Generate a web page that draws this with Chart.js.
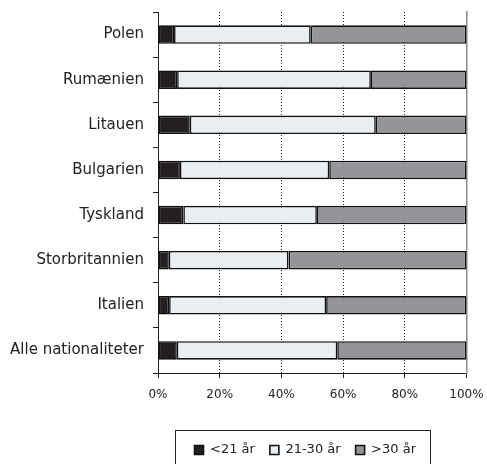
<!DOCTYPE html>
<html>
<head>
<meta charset="utf-8">
<script src="https://cdn.jsdelivr.net/npm/chart.js@4/dist/chart.umd.min.js"></script>
<style>
  html, body { margin: 0; padding: 0; background: #fff; }
  #wrap { width: 487px; height: 464px; }
</style>
</head>
<body>
<div id="wrap"><canvas id="ageChart" width="487" height="464"></canvas></div>
<script>
// age shares per nationality, in percent
const countries = ['Polen', 'Rumænien', 'Litauen', 'Bulgarien', 'Tyskland', 'Storbritannien', 'Italien', 'Alle nationaliteter'];
const under21 = [5.2, 6.2, 10.3, 7.1, 8.2, 3.5, 3.6, 6.1];
const age21to30 = [44.3, 62.8, 60.3, 48.4, 43.3, 38.8, 50.9, 52.0];
const over30 = [50.5, 31.0, 29.4, 44.5, 48.5, 57.7, 45.5, 41.9];
const xTicks = [0, 20, 40, 60, 80, 100];

(function(){
    const fontFamily = '"DejaVu Sans", sans-serif';

    // legend sits under the plot area (not the canvas) and has a frame
    const legendFrame = {
        id: 'legendFrame',
        afterLayout(chart) {
            const lg = chart.legend, ca = chart.chartArea;
            if (!lg || !ca) return;
            const dx = Math.round((ca.left + ca.right) / 2 - (lg.left + lg.right) / 2) - 7;
            const dy = 2.5;
            lg.left += dx; lg.right += dx;
            lg.top += dy; lg.bottom += dy;
        },
        afterDraw(chart) {
            const boxes = chart.legend && chart.legend.legendHitBoxes;
            if (!boxes || !boxes.length) return;
            const left = Math.min(...boxes.map(b => b.left)) - 20;
            const right = Math.max(...boxes.map(b => b.left + b.width)) + 14;
            const top = boxes[0].top - 13.5;
            const ctx = chart.ctx;
            ctx.save();
            ctx.strokeStyle = '#222';
            ctx.lineWidth = 1;
            ctx.strokeRect(Math.round(left) + 0.5, Math.round(top) + 0.5, Math.round(right - left), chart.height - top + 5);
            ctx.restore();
        }
    };

    const bar = { borderColor: '#111', borderWidth: 1.6, borderSkipped: false, barPercentage: 0.41, categoryPercentage: 1 };

    try {
        new Chart(document.getElementById('ageChart'), {
            type: 'bar',
            data: {
                labels: countries,
                datasets: [
                    Object.assign({ label: '<21 år', data: under21, backgroundColor: '#231f20' }, bar),
                    Object.assign({ label: '21-30 år', data: age21to30, backgroundColor: '#e9eef2' }, bar),
                    Object.assign({ label: '>30 år', data: over30, backgroundColor: '#939598' }, bar),
                ]
            },
            options: {
                indexAxis: 'y',
                responsive: false,
                animation: false,
                layout: { padding: { top: 12, right: 20.5, left: 0, bottom: 0 } },
                plugins: {
                    tooltip: { enabled: false },
                    legend: {
                        position: 'bottom',
                        labels: {
                            color: '#222',
                            font: { family: fontFamily, size: 13 },
                            boxWidth: 9,
                            boxHeight: 9,
                            padding: 15
                        }
                    }
                },
                scales: {
                    x: {
                        stacked: true,
                        min: 0,
                        max: 100,
                        afterBuildTicks: (s) => { s.ticks = xTicks.map(v => ({ value: v })); },
                        afterFit: (s) => { s.height = 53; s.paddingLeft = 0; s.paddingRight = 0; },
                        ticks: {
                            color: '#222',
                            font: { family: fontFamily, size: 12 },
                            padding: 10,
                            maxRotation: 0,
                            callback: (v) => v + '%'
                        },
                        grid: {
                            color: (c) => (c.tick && (c.tick.value === 0 || c.tick.value === 100)) ? 'rgba(0,0,0,0)' : '#222',
                            tickColor: '#222',
                            tickLength: 5,
                            tickBorderDash: []
                        },
                        border: { display: true, color: '#222', width: 1, dash: [1, 2] }
                    },
                    y: {
                        stacked: true,
                        afterFit: (s) => { s.width = 158; s.paddingTop = 0; s.paddingBottom = 0; },
                        ticks: {
                            color: '#222',
                            font: { family: fontFamily, size: 15 },
                            padding: 9
                        },
                        grid: {
                            drawOnChartArea: false,
                            offset: true,
                            color: '#222',
                            tickLength: 5
                        },
                        border: { display: true, color: '#222', width: 1 }
                    },
                    y2: {
                        type: 'category',
                        labels: countries,
                        position: 'right',
                        afterFit: (s) => { s.width = 0; s.paddingTop = 0; s.paddingBottom = 0; },
                        ticks: { display: false },
                        grid: { display: false, drawTicks: false },
                        border: { display: true, color: '#8a8a8a', width: 1.5 }
                    }
                }
            },
            plugins: [legendFrame]
        });
    } catch (e) {
        console.error('Failed to render age chart', e);
    }
})();
</script>
</body>
</html>
